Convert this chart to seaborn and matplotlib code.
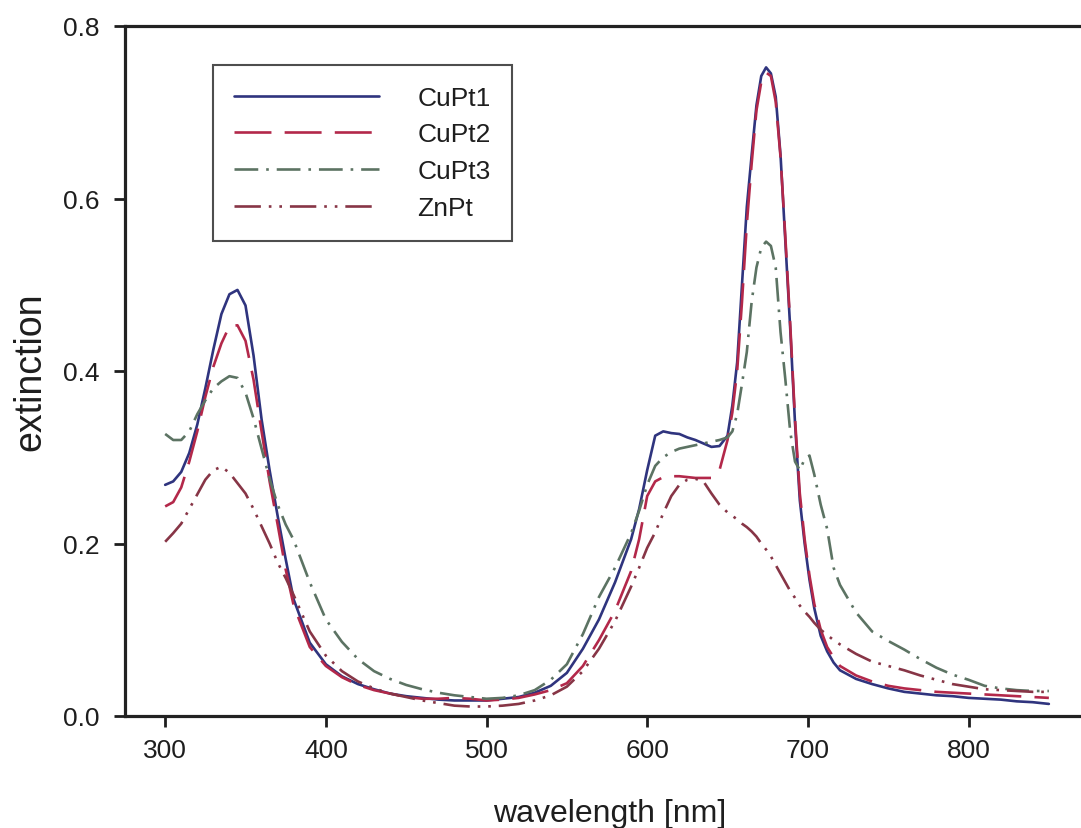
import numpy as np
import pandas as pd
import matplotlib
matplotlib.use("Agg")
import matplotlib.pyplot as plt
import seaborn as sns

# Absorption spectra of the four porphyrin samples
wavelength = [
    300, 305, 310, 315, 320, 325, 330, 335, 340, 345, 350, 355, 360, 365, 370, 375, 380,
    390, 400, 410, 420, 430, 440, 450, 460, 470, 480, 490, 500, 510, 520, 530, 540, 550, 560, 570, 580, 590,
    595, 600, 605, 610, 615, 620, 625, 630, 635, 640, 645, 650,
    653, 656, 659, 662, 665, 668, 671, 674, 677, 680, 683, 686, 689, 692, 695, 698, 701,
    704, 708, 712, 716, 720,
    730, 740, 750, 760, 770, 780, 790, 800, 810, 820, 830, 840, 850,
]

cupt1 = [
    0.268, 0.272, 0.283, 0.305, 0.338, 0.380, 0.425, 0.466, 0.489, 0.494, 0.476, 0.418, 0.344, 0.285, 0.232, 0.182, 0.135,
    0.085, 0.060, 0.046, 0.037, 0.031, 0.026, 0.023, 0.021, 0.019, 0.018, 0.018, 0.018, 0.020, 0.022, 0.027, 0.035, 0.050, 0.078, 0.112, 0.155, 0.205,
    0.240, 0.285, 0.325, 0.330, 0.328, 0.327, 0.323, 0.320, 0.316, 0.312, 0.313, 0.325,
    0.360, 0.410, 0.500, 0.590, 0.650, 0.708, 0.742, 0.752, 0.745, 0.718, 0.650, 0.550, 0.450, 0.340, 0.250, 0.200, 0.158,
    0.125, 0.093, 0.075, 0.062, 0.053,
    0.043, 0.037, 0.032, 0.028, 0.026, 0.024, 0.023, 0.021, 0.020, 0.019, 0.017, 0.016, 0.014,
]

cupt2 = [
    0.243, 0.248, 0.265, 0.295, 0.330, 0.370, 0.405, 0.432, 0.452, 0.453, 0.435, 0.390, 0.330, 0.272, 0.222, 0.170, 0.128,
    0.080, 0.058, 0.045, 0.036, 0.030, 0.026, 0.022, 0.020, 0.020, 0.021, 0.020, 0.018, 0.019, 0.021, 0.025, 0.030, 0.038, 0.058, 0.088, 0.122, 0.168,
    0.205, 0.255, 0.272, 0.277, 0.278, 0.278, 0.277, 0.276, 0.276, 0.276, 0.285, 0.320,
    0.352, 0.400, 0.480, 0.570, 0.640, 0.702, 0.735, 0.746, 0.742, 0.712, 0.648, 0.555, 0.455, 0.345, 0.258, 0.205, 0.163,
    0.130, 0.100, 0.080, 0.068, 0.058,
    0.047, 0.040, 0.035, 0.032, 0.030, 0.028, 0.027, 0.026, 0.025, 0.024, 0.023, 0.022, 0.021,
]

cupt3 = [
    0.327, 0.320, 0.320, 0.330, 0.350, 0.366, 0.380, 0.388, 0.394, 0.392, 0.375, 0.345, 0.310, 0.275, 0.245, 0.222, 0.204,
    0.155, 0.112, 0.086, 0.066, 0.052, 0.043, 0.036, 0.031, 0.027, 0.024, 0.022, 0.020, 0.021, 0.024, 0.030, 0.042, 0.060, 0.095, 0.138, 0.172, 0.212,
    0.238, 0.268, 0.290, 0.300, 0.306, 0.310, 0.312, 0.314, 0.316, 0.318, 0.320, 0.323,
    0.330, 0.350, 0.385, 0.422, 0.480, 0.520, 0.543, 0.550, 0.545, 0.520, 0.445, 0.390, 0.330, 0.295, 0.285, 0.298, 0.302,
    0.280, 0.245, 0.217, 0.172, 0.152,
    0.120, 0.098, 0.087, 0.077, 0.066, 0.056, 0.048, 0.042, 0.035, 0.032, 0.030, 0.029, 0.029,
]

znpt = [
    0.202, 0.212, 0.223, 0.240, 0.257, 0.274, 0.285, 0.289, 0.282, 0.270, 0.258, 0.240, 0.220, 0.200, 0.178, 0.160, 0.140,
    0.098, 0.070, 0.052, 0.040, 0.032, 0.026, 0.022, 0.018, 0.015, 0.012, 0.011, 0.011, 0.012, 0.014, 0.018, 0.024, 0.034, 0.052, 0.078, 0.110, 0.150,
    0.172, 0.195, 0.213, 0.235, 0.255, 0.268, 0.274, 0.275, 0.272, 0.258, 0.245, 0.236,
    0.232, 0.228, 0.223, 0.219, 0.214, 0.208, 0.200, 0.193, 0.185, 0.175, 0.165, 0.155, 0.145, 0.137, 0.128, 0.121, 0.115,
    0.108, 0.100, 0.094, 0.088, 0.083,
    0.072, 0.063, 0.058, 0.053, 0.047, 0.042, 0.037, 0.034, 0.031, 0.030, 0.029, 0.028, 0.028,
]

samples = ["CuPt1", "CuPt2", "CuPt3", "ZnPt"]
x_ticks = [300, 400, 500, 600, 700, 800]
y_ticks = [0.0, 0.2, 0.4, 0.6, 0.8]

colors = {"CuPt1": "#2f347e", "CuPt2": "#b3284a", "CuPt3": "#5c7363", "ZnPt": "#873546"}
dash_styles = {"CuPt1": "", "CuPt2": (14, 5), "CuPt3": (9, 3, 1, 3), "ZnPt": (10, 3, 1, 3, 1, 3)}

df = pd.DataFrame({
    "wavelength": wavelength * 4,
    "extinction": cupt1 + cupt2 + cupt3 + znpt,
    "sample": np.repeat(samples, len(wavelength)),
})

sns.set_style("ticks")
plt.rcParams["font.family"] = ["Liberation Sans", "DejaVu Sans"]
plt.rcParams["text.color"] = "#1e1e1e"
plt.rcParams["axes.labelcolor"] = "#1e1e1e"
plt.rcParams["xtick.color"] = "#1e1e1e"
plt.rcParams["ytick.color"] = "#1e1e1e"

fig = plt.figure(figsize=(10.81, 8.29), dpi=100)
ax = fig.add_axes([125 / 1081, 1 - 717 / 829, 1 - 125 / 1081, (717 - 27) / 829])

sns.lineplot(
    data=df, x="wavelength", y="extinction", hue="sample", style="sample",
    hue_order=samples, style_order=samples, palette=colors, dashes=dash_styles,
    linewidth=1.9, sort=False, ax=ax,
)

ax.set_xlim(275, 870)
ax.set_ylim(0, 0.8)
ax.set_xticks(x_ticks)
ax.set_yticks(y_ticks)
ax.set_yticklabels([f"{v:.1f}" for v in y_ticks])
ax.tick_params(axis="both", direction="out", length=8, width=2, labelsize=19)
ax.tick_params(axis="y", pad=10)
ax.tick_params(axis="x", pad=8)

for side in ("left", "bottom", "top"):
    ax.spines[side].set_linewidth(2.3)
    ax.spines[side].set_color("#222222")
ax.spines["right"].set_visible(False)

ax.set_xlabel("wavelength [nm]", fontsize=23)
ax.xaxis.set_label_coords(0.507, -0.119)
ax.set_ylabel("extinction", fontsize=27, labelpad=11)

handles, labels = ax.get_legend_handles_labels()
leg = ax.legend(
    handles, labels, loc="upper left", bbox_to_anchor=(0.092, 0.944),
    borderaxespad=0, fontsize=19, handlelength=5.5, handletextpad=1.45,
    labelspacing=0.48, borderpad=0.8, frameon=True, fancybox=False,
)
leg.get_frame().set_edgecolor("#222222")
leg.get_frame().set_linewidth(1.5)
for line in leg.get_lines():
    line.set_linewidth(1.9)

fig.savefig("out.png", dpi=100)
